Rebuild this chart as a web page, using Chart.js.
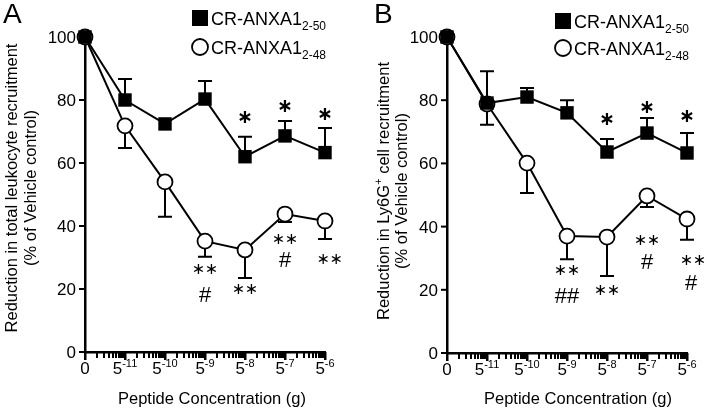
<!DOCTYPE html>
<html>
<head>
<meta charset="utf-8">
<script src="https://cdn.jsdelivr.net/npm/chart.js@4.4.0/dist/chart.umd.min.js"></script>
<style>
body { margin: 0; background: #fff; }
.wrap { position: relative; width: 708px; height: 410px; }
.panel { position: absolute; top: 0; width: 354px; height: 410px; }
</style>
</head>
<body>
<div class="wrap">
  <div class="panel" style="left:0"><canvas id="panel-a" width="354" height="410"></canvas></div>
  <div class="panel" style="left:354px"><canvas id="panel-b" width="354" height="410"></canvas></div>
</div>
<script>
const doses = [0, 1, 2, 3, 4, 5, 6];
const doseExponents = ['', '-11', '-10', '-9', '-8', '-7', '-6'];
const yTicks = [0, 20, 40, 60, 80, 100];
const seriesNames = ['CR-ANXA1', 'CR-ANXA1'];
const seriesSubs = ['2-50', '2-48'];

// A - total leukocyte recruitment
const totalAnxa50 = [100, 80, 72.4, 80.3, 62, 68.6, 63.3];
const totalAnxa50Upper = [null, 86.7, null, 86, 68.3, 73.3, 71.1];
const totalAnxa48 = [100, 71.8, 54, 35.2, 32.4, 43.8, 41.6];
const totalAnxa48Lower = [null, 64.8, 42.9, 30.2, 23.5, 41.3, 35.9];
const totalMarks = [
    [4, 74.3, '*'], [5, 77.8, '*'], [6, 75.2, '*'],
    [3, 26, '**'], [3, 18.1, '#'], [4, 19.7, '**'],
    [5, 35.6, '**'], [5, 29.2, '#'], [6.12, 29.2, '**']
];

// B - Ly6G+ cell recruitment
const ly6gAnxa50 = [100, 79.1, 81, 76, 63.6, 69.6, 63.3];
const ly6gAnxa50Upper = [null, 89.2, 83.9, 80, 67.7, 74.4, 69.6];
const ly6gAnxa48 = [100, 78.8, 60.1, 37, 36.7, 49.7, 42.4];
const ly6gAnxa48Lower = [null, 72.2, 50.6, 29.7, 24.4, 46.2, 35.8];
const ly6gMarks = [
    [4, 73.7, '*'], [5, 77.5, '*'], [6, 74.7, '*'],
    [3, 25.9, '**'], [3, 18, '##'], [4, 19.6, '**'],
    [5, 35.4, '**'], [5, 28.8, '#'], [6.15, 29.1, '**'], [6.1, 22.2, '#']
];

const FONT = '"Liberation Sans", Arial, sans-serif';

function fontFor(mode, size) {
    const s = mode ? Math.round(size * 0.66) : size;
    return s + 'px ' + FONT;
}

function drawRich(ctx, parts, x, y, size, align) {
    let w = 0;
    parts.forEach(([t, mode]) => { ctx.font = fontFor(mode, size); w += ctx.measureText(t).width; });
    let cx = align === 'center' ? x - w / 2 : align === 'right' ? x - w : x;
    ctx.textAlign = 'left';
    ctx.textBaseline = 'alphabetic';
    parts.forEach(([t, mode]) => {
        ctx.font = fontFor(mode, size);
        const dy = mode === 'sup' ? -size * 0.42 : mode === 'sub' ? size * 0.3 : 0;
        ctx.fillText(t, cx, y + dy);
        cx += ctx.measureText(t).width;
    });
}

function makePanel(id, cfg) {
    const ctx = document.getElementById(id).getContext('2d');

    const decor = {
        id: 'decor',
        beforeDatasetsDraw(chart) {
            const { ctx, chartArea, scales: { x, y } } = chart;
            ctx.save();
            ctx.strokeStyle = '#000';
            ctx.fillStyle = '#000';

            // y ticks + labels
            ctx.lineWidth = 2;
            yTicks.forEach(v => {
                const py = y.getPixelForValue(v);
                ctx.beginPath();
                ctx.moveTo(chartArea.left - 6, py);
                ctx.lineTo(chartArea.left, py);
                ctx.stroke();
                drawRich(ctx, [[String(v), '']], chartArea.left - 9, py + 6, 17, 'right');
            });

            // x labels
            doses.forEach((d, i) => {
                const px = x.getPixelForValue(d);
                const parts = doseExponents[i] ? [['5', ''], [doseExponents[i], 'sup']] : [['0', '']];
                drawRich(ctx, parts, px, chartArea.bottom + 22, 17, 'center');
            });

            // error bars
            ctx.lineWidth = 2;
            const bars = [[cfg.filled, cfg.filledUpper], [cfg.open, cfg.openLower]];
            bars.forEach(([vals, ends]) => {
                ends.forEach((e, i) => {
                    if (e === null) return;
                    const px = x.getPixelForValue(doses[i]);
                    const p0 = y.getPixelForValue(vals[i]);
                    const p1 = y.getPixelForValue(e);
                    ctx.beginPath();
                    ctx.moveTo(px, p0);
                    ctx.lineTo(px, p1);
                    ctx.moveTo(px - 7, p1);
                    ctx.lineTo(px + 7, p1);
                    ctx.stroke();
                });
            });

            // titles
            drawRich(ctx, [['Peptide Concentration (g)', '']], cfg.xTitleX, 404, 16.5, 'center');
            cfg.yTitle.forEach((line, i) => {
                ctx.save();
                ctx.translate(cfg.yTitleX[i], cfg.yTitleY);
                ctx.rotate(-Math.PI / 2);
                drawRich(ctx, line, 0, 6, 16.5, 'center');
                ctx.restore();
            });
            ctx.font = '28px ' + FONT;
            ctx.textAlign = 'left';
            ctx.fillText(cfg.letter, cfg.letterX, 23);
            ctx.restore();
        },
        afterDraw(chart) {
            const { ctx, chartArea, scales: { x, y } } = chart;
            ctx.save();
            ctx.fillStyle = '#000';
            ctx.strokeStyle = '#000';
            const base = Math.round(chartArea.bottom);

            // x major ticks
            doses.forEach(d => {
                const px = Math.round(x.getPixelForValue(d));
                ctx.fillRect(px - 1, base, 2.5, 8);
            });
            // minor ticks, log-spaced inside each step
            for (let i = 0; i < doses.length - 1; i++) {
                for (let k = 2; k <= 9; k++) {
                    const px = Math.round(x.getPixelForValue(doses[i] + Math.log10(k)));
                    ctx.fillRect(px - 1, base, 2, 6);
                }
            }

            // significance marks
            ctx.textAlign = 'center';
            ctx.textBaseline = 'middle';
            cfg.marks.forEach(([d, v, t]) => {
                const px = x.getPixelForValue(d);
                const py = y.getPixelForValue(v);
                if (t === '*') {
                    ctx.font = 'bold 19px "DejaVu Sans", sans-serif';
                    ctx.fillText('\u2217', px, py);
                } else if (t === '**') {
                    ctx.font = '16px "DejaVu Sans", sans-serif';
                    ctx.fillText('\u2217', px - 6.5, py);
                    ctx.fillText('\u2217', px + 6.5, py);
                } else {
                    ctx.font = '22px ' + FONT;
                    ctx.fillText(t, px, py + 1);
                }
            });

            // legend
            const lx = cfg.legendX, ly = cfg.legendY;
            ctx.fillRect(lx - 8, ly[0] - 8, 16, 16);
            ctx.beginPath();
            ctx.arc(lx, ly[1], 8, 0, Math.PI * 2);
            ctx.fillStyle = '#fff';
            ctx.fill();
            ctx.lineWidth = 1.8;
            ctx.stroke();
            ctx.fillStyle = '#000';
            seriesNames.forEach((n, i) => {
                drawRich(ctx, [[n, ''], [seriesSubs[i], 'sub']], lx + 11, ly[i] + 6.5, 18, 'left');
            });
            ctx.restore();
        }
    };

    return new Chart(ctx, {
        type: 'line',
        data: {
            datasets: [{
                data: doses.map((d, i) => ({ x: d, y: cfg.filled[i] })),
                borderColor: '#000',
                borderWidth: 2,
                pointStyle: 'rect',
                pointRadius: 9.5,
                pointBackgroundColor: '#000',
                pointBorderColor: '#000',
                pointBorderWidth: 0,
                clip: false
            }, {
                data: doses.map((d, i) => ({ x: d, y: cfg.open[i] })),
                borderColor: '#000',
                borderWidth: 2,
                pointStyle: 'circle',
                pointRadius: 7.5,
                pointBackgroundColor: '#fff',
                pointBorderColor: '#000',
                pointBorderWidth: 1.8,
                clip: false
            }]
        },
        options: {
            responsive: false,
            animation: false,
            events: [],
            devicePixelRatio: 1,
            layout: { padding: cfg.padding },
            plugins: { legend: { display: false }, tooltip: { enabled: false } },
            scales: {
                x: {
                    type: 'linear', min: 0, max: 6,
                    ticks: { display: false },
                    grid: { display: false },
                    border: { display: true, color: '#000', width: 2.5 },
                    afterFit: s => { s.height = 0; }
                },
                y: {
                    min: 0, max: 100,
                    ticks: { display: false },
                    grid: { display: false },
                    border: { display: true, color: '#000', width: 2.5 },
                    afterFit: s => { s.width = 0; }
                }
            }
        },
        plugins: [decor]
    });
}

makePanel('panel-a', {
    letter: 'A', letterX: 3,
    filled: totalAnxa50, filledUpper: totalAnxa50Upper,
    open: totalAnxa48, openLower: totalAnxa48Lower,
    marks: totalMarks,
    padding: { left: 85, right: 29, top: 37, bottom: 58 },
    xTitleX: 212,
    yTitle: [[['Reduction in total leukocyte recruitment', '']], [['(% of Vehicle control)', '']]],
    yTitleX: [11, 30], yTitleY: 188,
    legendX: 200, legendY: [18, 47]
});

makePanel('panel-b', {
    letter: 'B', letterX: 20,
    filled: ly6gAnxa50, filledUpper: ly6gAnxa50Upper,
    open: ly6gAnxa48, openLower: ly6gAnxa48Lower,
    marks: ly6gMarks,
    padding: { left: 93, right: 21, top: 37, bottom: 57 },
    xTitleX: 224,
    yTitle: [[['Reduction in Ly6G', ''], ['+', 'sup'], [' cell recruitment', '']], [['(% of Vehicle control)', '']]],
    yTitleX: [28.5, 46.5], yTitleY: 191,
    legendX: 209, legendY: [21, 48]
});
</script>
</body>
</html>
